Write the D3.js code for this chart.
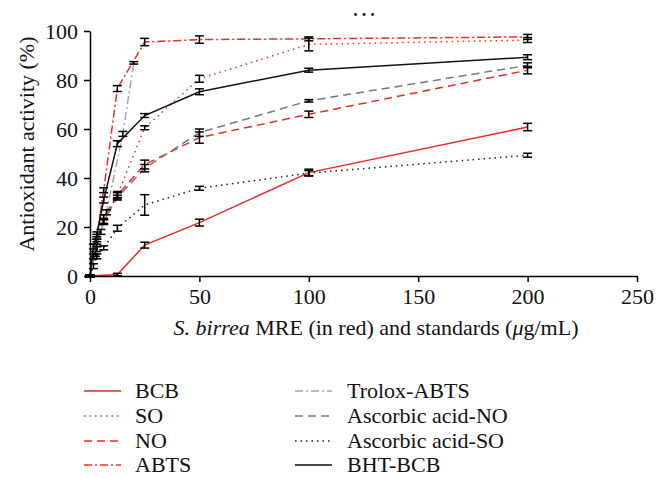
<!DOCTYPE html>
<html><head><meta charset="utf-8">
<script src="https://cdn.jsdelivr.net/npm/d3@7"></script>
<style>
body{margin:0;background:#fff;}
svg{display:block;font-family:"Liberation Serif","DejaVu Serif",serif;}
</style></head>
<body><svg id="c" width="662" height="478"></svg>
<script>
// ---- data ----
const conc = [0, 1.5625, 3.125, 6.25, 12.5, 25, 50, 100, 200];
const concExt = [0, 3.125, 6.25, 12.5, 25, 50, 100, 200];
const concBCB = [0, 12.5, 25, 50, 100, 200];
const concTrolox = [0, 2.5, 5, 7.5, 15, 20];

const bcbY = [0, 0.6, 12.6, 21.8, 42.2, 60.8];
const bcbE = [0.4, 0.5, 1.2, 1.4, 1.4, 1.5];
const soY = [0, 11, 22, 33, 60.5, 80.5, 94.5, 96.3];
const soE = [0.5, 1, 1, 1, 0.8, 1.4, 2.6, 1];
const noY = [0, 13, 24, 33, 45.5, 56.5, 66, 84];
const noE = [0.5, 1, 1, 1.5, 1.8, 2.3, 1.3, 1.5];
const abtsY = [0, 16, 35, 76.5, 95.5, 96.5, 96.8, 97.6];
const abtsE = [0.5, 1, 1, 1.2, 1.5, 1.5, 0.8, 1];
const troloxY = [0, 9, 18, 26, 58, 87];
const troloxE = [0.5, 1, 1, 1, 1, 0.5];
const ascNoY = [0, 8, 14, 22.5, 32, 44, 58.5, 71.5, 86];
const ascNoE = [0.5, 1, 1, 1, 1, 1.5, 1.5, 0.5, 1];
const ascSoY = [0, 4, 8, 11.5, 19.5, 29, 35.8, 42, 49.3];
const ascSoE = [0.5, 1, 1, 0.8, 1.2, 4.2, 0.8, 1, 0.8];
const bhtY = [0, 12, 17, 31, 54, 65.5, 75.2, 84, 89.3];
const bhtE = [0.5, 1, 1, 1.2, 1.2, 0.8, 1.2, 0.8, 1];

const xTicks = [0, 50, 100, 150, 200, 250];
const yTicks = [0, 20, 40, 60, 80, 100];

const RED = "#ee2a24";
const series = [
  {name:"BCB", x:concBCB, y:bcbY, e:bcbE, color:RED, dash:null},
  {name:"SO", x:concExt, y:soY, e:soE, color:RED, dash:"1.5,4"},
  {name:"NO", x:concExt, y:noY, e:noE, color:RED, dash:"8,5"},
  {name:"ABTS", x:concExt, y:abtsY, e:abtsE, color:RED, dash:"8,3,2,3"},
  {name:"Trolox-ABTS", x:concTrolox, y:troloxY, e:troloxE, color:"#a6a6a6", dash:"8,3,2,3"},
  {name:"Ascorbic acid-NO", x:conc, y:ascNoY, e:ascNoE, color:"#7a7a7a", dash:"8,5"},
  {name:"Ascorbic acid-SO", x:conc, y:ascSoY, e:ascSoE, color:"#222", dash:"1.5,4"},
  {name:"BHT-BCB", x:conc, y:bhtY, e:bhtE, color:"#111", dash:null}
];

// ---- chart ----
const FS = 22;
const svg = d3.select("#c");
const x = d3.scaleLinear().domain([0,250]).range([90,637]);
const y = d3.scaleLinear().domain([0,100]).range([276,31]);

const line = d3.line().x(d=>x(d[0])).y(d=>y(d[1]));
series.forEach(s=>{
  const pts = s.x.map((v,i)=>[v,s.y[i]]);
  svg.append("path").attr("d",line(pts)).attr("fill","none")
    .attr("stroke",s.color).attr("stroke-width",1.5)
    .attr("stroke-dasharray",s.dash);
});
series.forEach(s=>{
  s.x.forEach((v,i)=>{
    const g = svg.append("g").attr("stroke","#000").attr("stroke-width",1.5);
    const cx = x(v), y1 = y(s.y[i]-s.e[i]), y2 = y(s.y[i]+s.e[i]);
    g.append("line").attr("x1",cx).attr("x2",cx).attr("y1",y1).attr("y2",y2);
    g.append("line").attr("x1",cx-4.5).attr("x2",cx+4.5).attr("y1",y1).attr("y2",y1);
    g.append("line").attr("x1",cx-4.5).attr("x2",cx+4.5).attr("y1",y2).attr("y2",y2);
  });
});

const xa = svg.append("g").attr("transform","translate(0,276)")
  .call(d3.axisBottom(x).tickValues(xTicks).tickSize(6).tickSizeOuter(0).tickPadding(6));
const ya = svg.append("g").attr("transform","translate(90,0)")
  .call(d3.axisLeft(y).tickValues(yTicks).tickSize(6).tickSizeOuter(0).tickPadding(6));
[xa,ya].forEach(a=>{
  a.selectAll("path,line").attr("stroke","#000").attr("stroke-width",1.5);
  a.selectAll("text").attr("font-family","Liberation Serif, serif").attr("font-size",FS).attr("fill","#111");
});

svg.append("text").attr("transform","translate(34,144) rotate(-90)")
  .attr("text-anchor","middle").attr("font-size",FS).attr("fill","#111")
  .text("Antioxidant activity (%)");

const xt = svg.append("text").attr("x",376).attr("y",335).attr("text-anchor","middle")
  .attr("font-size",FS).attr("fill","#111");
xt.append("tspan").attr("font-style","italic").text("S. birrea");
xt.append("tspan").text(" MRE (in red) and standards (");
xt.append("tspan").attr("font-style","italic").text("μ");
xt.append("tspan").text("g/mL)");

svg.append("text").attr("x",366).attr("y",16).attr("text-anchor","middle")
  .attr("font-size",18).attr("font-weight","bold").attr("letter-spacing","4px").attr("fill","#111").text("...");

// legend
const rows = [398, 423, 448, 472];
series.forEach((s,i)=>{
  const col = Math.floor(i/4), r = i%4;
  const sx = col===0 ? 84 : 295, tx = col===0 ? 135 : 347;
  svg.append("line").attr("x1",sx).attr("x2",sx+37).attr("y1",rows[r]-7).attr("y2",rows[r]-7)
    .attr("stroke",s.color).attr("stroke-width",1.5).attr("stroke-dasharray",s.dash);
  svg.append("text").attr("x",tx).attr("y",rows[r]).attr("font-size",FS).attr("fill","#111").text(s.name);
});
</script></body></html>
